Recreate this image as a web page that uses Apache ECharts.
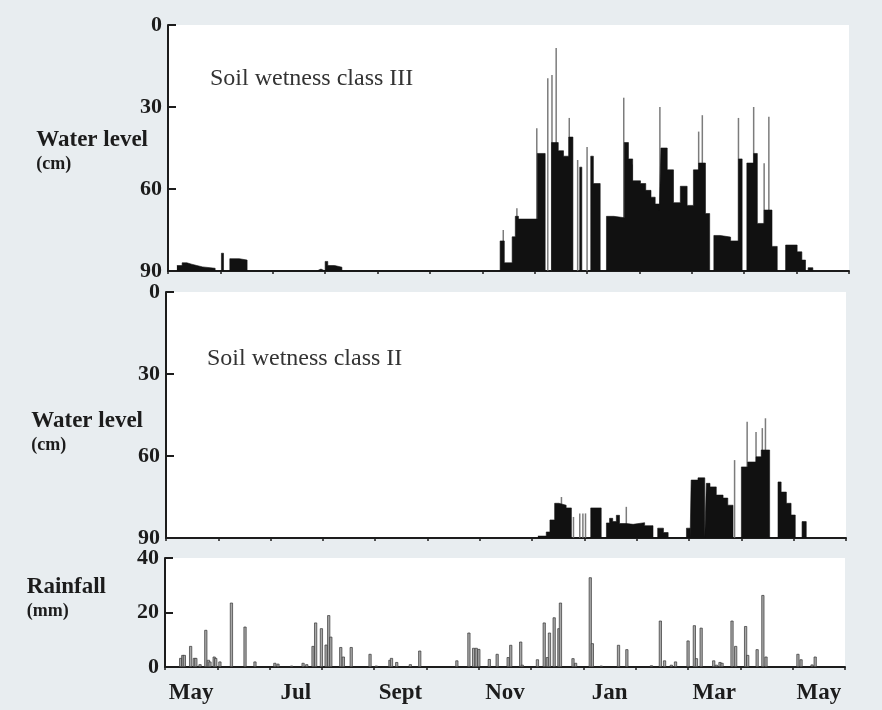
<!DOCTYPE html>
<html>
<head>
<meta charset="utf-8">
<script src="https://cdn.jsdelivr.net/npm/echarts@6/dist/echarts.min.js"></script>
<style>
    html, body { margin: 0; padding: 0; background: #e8edf0; }
    #chart { width: 882px; height: 710px; }
</style>
</head>
<body>
<div id="chart"></div>
<script>
    // x positions are in months from 1 May (0) to the next end of May (13)
    var months = ['May', 'Jun', 'Jul', 'Aug', 'Sept', 'Oct', 'Nov', 'Dec', 'Jan', 'Feb', 'Mar', 'Apr', 'May'];

    // soil wetness class III : water level depth (cm), step points
    var wl3Month = [0.17, 0.27, 0.36, 0.45, 0.55, 0.66, 0.90, 1.02, 1.06, 1.18, 1.36, 1.51, 2.84, 2.92, 3.00, 3.05, 3.18, 3.32,
        6.34, 6.42, 6.57, 6.63, 6.69, 7.05, 7.20, 7.32, 7.45, 7.55, 7.65, 7.73, 7.86, 7.90, 8.07, 8.12, 8.25,
        8.37, 8.51, 8.71, 8.79, 8.87, 9.02, 9.12, 9.22, 9.30, 9.38, 9.41, 9.53, 9.65, 9.78, 9.91, 10.03, 10.13, 10.26, 10.34,
        10.42, 10.54, 10.74, 10.89, 10.96, 11.05, 11.18, 11.25, 11.38, 11.53, 11.63, 11.79, 12.01, 12.10, 12.17, 12.22, 12.31];
    var wl3Depth = [88, 87, 87.5, 88, 88.5, 89, 90, 83.5, 90, 85.5, 86, 90, 89.3, 90, 86.5, 88, 88.6, 90,
        79, 87, 77.5, 70, 71, 47, 90, 43, 46, 48, 41, 90, 52, 90, 48, 58, 90,
        70, 70.5, 43, 49, 57, 58, 60.5, 63, 65.5, 68, 45, 53, 65, 59, 66, 53, 50.5, 69, 90,
        77, 77.6, 79, 49, 90, 50.5, 47, 72.6, 67.7, 81, 90, 80.5, 83, 86, 90, 88.8, 90];
    // single-day peaks (thin lines)
    var wl3SpikeMonth = [6.40, 6.66, 7.04, 7.25, 7.33, 7.41, 7.66, 7.82, 8.00, 8.70, 8.86, 9.39, 10.13, 10.20, 10.89, 11.18, 11.38, 11.47];
    var wl3SpikeDepth = [75, 67, 37.8, 19.5, 18.3, 8.4, 34, 49.4, 44.6, 26.6, 51, 30, 39, 33, 34, 30, 50.6, 33.6];

    // soil wetness class II
    var wl2Month = [7.11, 7.27, 7.34, 7.43, 7.51, 7.65, 7.75, 8.12, 8.32, 8.42, 8.48, 8.54, 8.61, 8.67, 8.80, 8.93, 9.15, 9.31, 9.40, 9.51, 9.60,
        9.95, 10.02, 10.04, 10.17, 10.30, 10.33, 10.40, 10.52, 10.65, 10.74, 10.84, 11.00, 11.12, 11.28, 11.38, 11.54, 11.70, 11.76, 11.86, 11.95, 12.03, 12.16, 12.24];
    var wl2Depth = [89.3, 87.8, 83.4, 77.3, 78, 79, 90, 79, 90, 84.5, 82.8, 84, 81.7, 84.7, 85, 84.4, 85.5, 90, 86.4, 88, 90,
        86.4, 90, 68.8, 68, 90, 70, 71.3, 74.3, 75.4, 78, 90, 64, 62.2, 60.3, 57.8, 90, 69.5, 73.2, 77.3, 81.6, 90, 84, 90];
    var wl2SpikeMonth = [7.56, 7.79, 7.91, 7.97, 8.02, 8.80, 10.87, 11.11, 11.28, 11.40, 11.46];
    var wl2SpikeDepth = [75, 82.3, 81, 81, 81, 78.6, 61.5, 47.5, 51.2, 49.8, 46.2];

    // daily rainfall (mm)
    var rainMonth = [0.30, 0.34, 0.37, 0.49, 0.56, 0.59, 0.67, 0.78, 0.83, 0.86, 0.94, 0.97, 1.05, 1.27, 1.53, 1.72, 2.10, 2.16, 2.42, 2.64, 2.71, 2.83, 2.88, 2.99, 3.08, 3.13, 3.17, 3.36, 3.41, 3.56, 3.92, 4.04, 4.30, 4.33, 4.43, 4.69, 4.87, 5.58, 5.81, 5.90, 5.95, 6.00, 6.20, 6.35,
        6.56, 6.61, 6.80, 6.83, 7.12, 7.25, 7.31, 7.35, 7.44, 7.53, 7.56, 7.80, 7.85, 8.13, 8.17, 8.34, 8.67, 8.83, 9.30, 9.47, 9.55, 9.68, 9.76, 10.00, 10.12, 10.16, 10.25, 10.49, 10.54, 10.61, 10.65, 10.84, 10.91, 11.10, 11.14, 11.32, 11.43, 11.49, 12.10, 12.16, 12.37, 12.43];
    var rainMm = [3.3, 4.4, 4.4, 7.7, 3.3, 3.3, 1, 13.6, 2.6, 2, 3.8, 3.3, 2, 23.6, 14.8, 2, 1.5, 1.2, 0.5, 1.5, 1, 7.7, 16.3, 14.2, 8.2, 19, 11.1, 7.3, 3.8, 7.3, 4.8, 0.5, 2.6, 3.3, 1.8, 1, 6, 2.4, 12.6, 7, 7, 6.6, 2.9, 4.8,
        3.6, 8.1, 9.3, 0.8, 2.8, 16.3, 3.6, 12.6, 18.2, 14.2, 23.6, 3.2, 1.5, 32.9, 8.7, 0.5, 8.1, 6.5, 0.6, 17, 2.4, 0.8, 2, 9.7, 15.3, 3.2, 14.4, 2.4, 0.8, 1.8, 1.5, 17, 7.7, 15, 4.4, 6.5, 26.4, 3.8, 4.8, 2.8, 0.9, 3.8];

    var SERIF = 'Liberation Serif';
    var INK = '#1c1c1c';

    // depth below surface -> height above the 90 cm line (axis labels show depth again)
    function toPairs(xs, depths) {
        return xs.map(function (x, i) { return [x, 90 - depths[i]]; });
    }

    function xAxisFor(idx) {
        return {
            gridIndex: idx, type: 'value', min: 0, max: 13, interval: 1,
            axisLine: { lineStyle: { color: INK, width: 2 } },
            axisTick: { length: 3, lineStyle: { color: INK, width: 1.5 } },
            axisLabel: { show: false },
            splitLine: { show: false }
        };
    }

    function nameStyle(pad) {
        return {
            padding: pad,
            rich: {
                a: { fontFamily: SERIF, fontWeight: 'bold', fontSize: 23, color: INK, align: 'left', lineHeight: 26 },
                b: { fontFamily: SERIF, fontWeight: 'bold', fontSize: 18, color: INK, align: 'left', lineHeight: 22 }
            }
        };
    }

    function levelAxis(idx, pad, gap) {
        return {
            gridIndex: idx, type: 'value', min: 0, max: 90, interval: 30,
            name: '{a|Water level}\n{b|(cm)}',
            nameLocation: 'middle', nameRotate: 0, nameGap: gap, nameMoveOverlap: false,
            nameTextStyle: nameStyle(pad),
            axisLine: { show: true, lineStyle: { color: INK, width: 2 } },
            axisTick: { show: true, inside: true, length: 8, lineStyle: { color: INK, width: 2 } },
            axisLabel: {
                margin: 6, fontFamily: SERIF, fontWeight: 'bold', fontSize: 22, color: INK,
                formatter: function (v) { return 90 - v; }
            },
            splitLine: { show: false }
        };
    }

    function areaSeries(idx, xs, ds) {
        return {
            type: 'line', xAxisIndex: idx, yAxisIndex: idx, step: 'end', symbol: 'none',
            lineStyle: { color: '#111', width: 0.6 },
            areaStyle: { color: '#111', opacity: 1 },
            data: toPairs(xs, ds)
        };
    }

    function spikeSeries(idx, xs, ds) {
        return {
            type: 'bar', xAxisIndex: idx, yAxisIndex: idx, barWidth: 1.5,
            itemStyle: { color: '#7c7c7c' },
            data: toPairs(xs, ds)
        };
    }

    var myChart = echarts.init(document.getElementById('chart'));
    var option = {
        backgroundColor: '#e8edf0',
        animation: false,
        title: [
            { text: 'Soil wetness class III', left: 205, top: 62,
              textStyle: { fontFamily: SERIF, fontWeight: 'normal', fontSize: 24, color: '#333' } },
            { text: 'Soil wetness class II', left: 202, top: 342,
              textStyle: { fontFamily: SERIF, fontWeight: 'normal', fontSize: 24, color: '#333' } }
        ],
        grid: [
            { left: 168, top: 25, width: 681, height: 246, show: true, backgroundColor: '#fff', borderWidth: 0 },
            { left: 166, top: 292, width: 680, height: 246, show: true, backgroundColor: '#fff', borderWidth: 0 },
            { left: 165, top: 558, width: 680, height: 109, show: true, backgroundColor: '#fff', borderWidth: 0 }
        ],
        xAxis: [
            xAxisFor(0), xAxisFor(1), xAxisFor(2),
            {
                gridIndex: 2, type: 'category', data: months, position: 'bottom', boundaryGap: true,
                axisLine: { show: false }, axisTick: { show: false },
                axisLabel: { interval: 1, margin: 15, fontFamily: SERIF, fontWeight: 'bold', fontSize: 23, color: INK }
            }
        ],
        yAxis: [
            levelAxis(0, [6, 0, 0, 0], 20),
            levelAxis(1, [34, 0, 0, 0], 23),
            {
                gridIndex: 2, type: 'value', min: 0, max: 40, interval: 20,
                name: '{a|Rainfall}\n{b|(mm)}',
                nameLocation: 'middle', nameRotate: 0, nameGap: 59, nameMoveOverlap: false,
                nameTextStyle: nameStyle([0, 0, 28, 0]),
                axisLine: { show: true, lineStyle: { color: INK, width: 2 } },
                axisTick: { show: true, inside: true, length: 8, lineStyle: { color: INK, width: 2 } },
                axisLabel: { margin: 6, fontFamily: SERIF, fontWeight: 'bold', fontSize: 22, color: INK },
                splitLine: { show: false }
            }
        ],
        series: [
            spikeSeries(0, wl3SpikeMonth, wl3SpikeDepth),
            areaSeries(0, wl3Month, wl3Depth),
            spikeSeries(1, wl2SpikeMonth, wl2SpikeDepth),
            areaSeries(1, wl2Month, wl2Depth),
            {
                type: 'bar', xAxisIndex: 2, yAxisIndex: 2, barWidth: 3,
                itemStyle: { color: '#a8a8a8', borderColor: '#333', borderWidth: 0.7 },
                data: rainMonth.map(function (m, i) { return [m, rainMm[i]]; })
            }
        ]
    };
    myChart.setOption(option);
</script>
</body>
</html>
